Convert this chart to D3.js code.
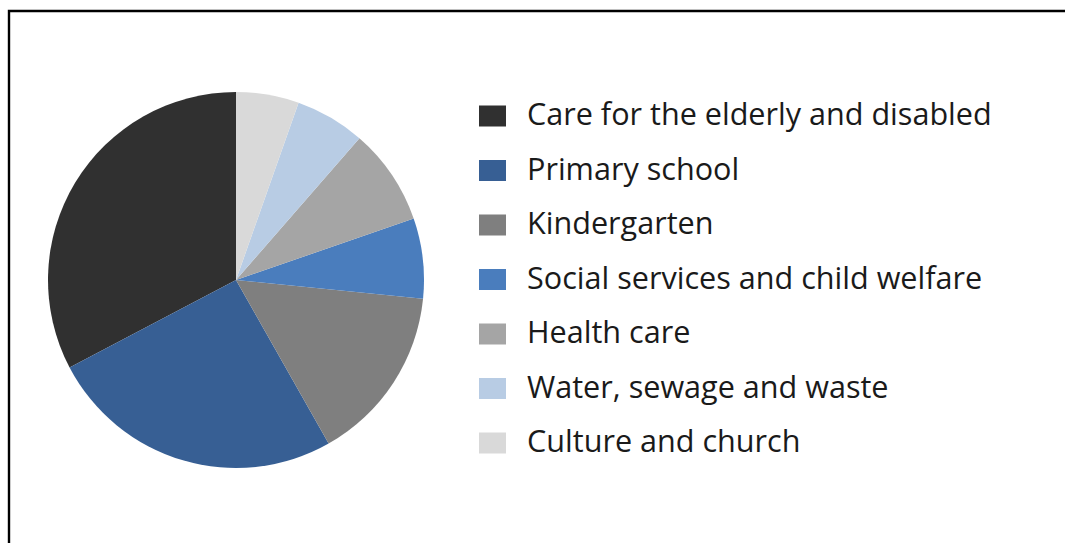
<!DOCTYPE html>
<html>
<head>
<meta charset="utf-8">
<script src="https://cdn.jsdelivr.net/npm/d3@7"></script>
<style>
html,body{margin:0;padding:0;background:#fff;}
svg{display:block;}
</style>
</head>
<body>
<svg id="chart" width="1065" height="543"></svg>
<script>
const categories = ["Care for the elderly and disabled","Primary school","Kindergarten","Social services and child welfare","Health care","Water, sewage and waste","Culture and church"];
const values = [32.7, 25.5, 15.2, 6.9, 8.3, 6.0, 5.4];
const colors = ["#303030","#375f94","#7f7f7f","#4a7dbd","#a5a5a5","#b8cce4","#d9d9d9"];

const svg = d3.select("#chart");
// frame
svg.append("path")
  .attr("d","M9,560 L9,11 L1080,11")
  .attr("fill","none").attr("stroke","#000").attr("stroke-width",2.4);

const cx = 236, cy = 280, r = 188;
const data = categories.map((c,i)=>({name:c,value:values[i],color:colors[i]}));
const pie = d3.pie().sort(null).value(d=>d.value).startAngle(0).endAngle(-2*Math.PI);
const arc = d3.arc().innerRadius(0).outerRadius(r);
const g = svg.append("g").attr("transform",`translate(${cx},${cy})`);
g.selectAll("path").data(pie(data)).join("path")
  .attr("d",arc).attr("fill",d=>d.data.color);

const legend = svg.append("g");
const y0 = 116, step = 54.5;
const rows = legend.selectAll("g").data(data).join("g")
  .attr("transform",(d,i)=>`translate(0,${y0+i*step})`);
rows.append("rect").attr("x",479).attr("y",-10.5).attr("width",27).attr("height",21)
  .attr("fill",d=>d.color);
const texts = rows.append("text").attr("x",527).attr("y",9)
  .attr("font-family","'Open Sans', sans-serif").attr("font-size",26)
  .attr("fill","#1a1a1a").text(d=>d.name);
// fit widest label to ~465px
const w = texts.nodes()[0].getComputedTextLength();
const fs = 26*465/w;
texts.attr("font-size",fs);
</script>
</body>
</html>
